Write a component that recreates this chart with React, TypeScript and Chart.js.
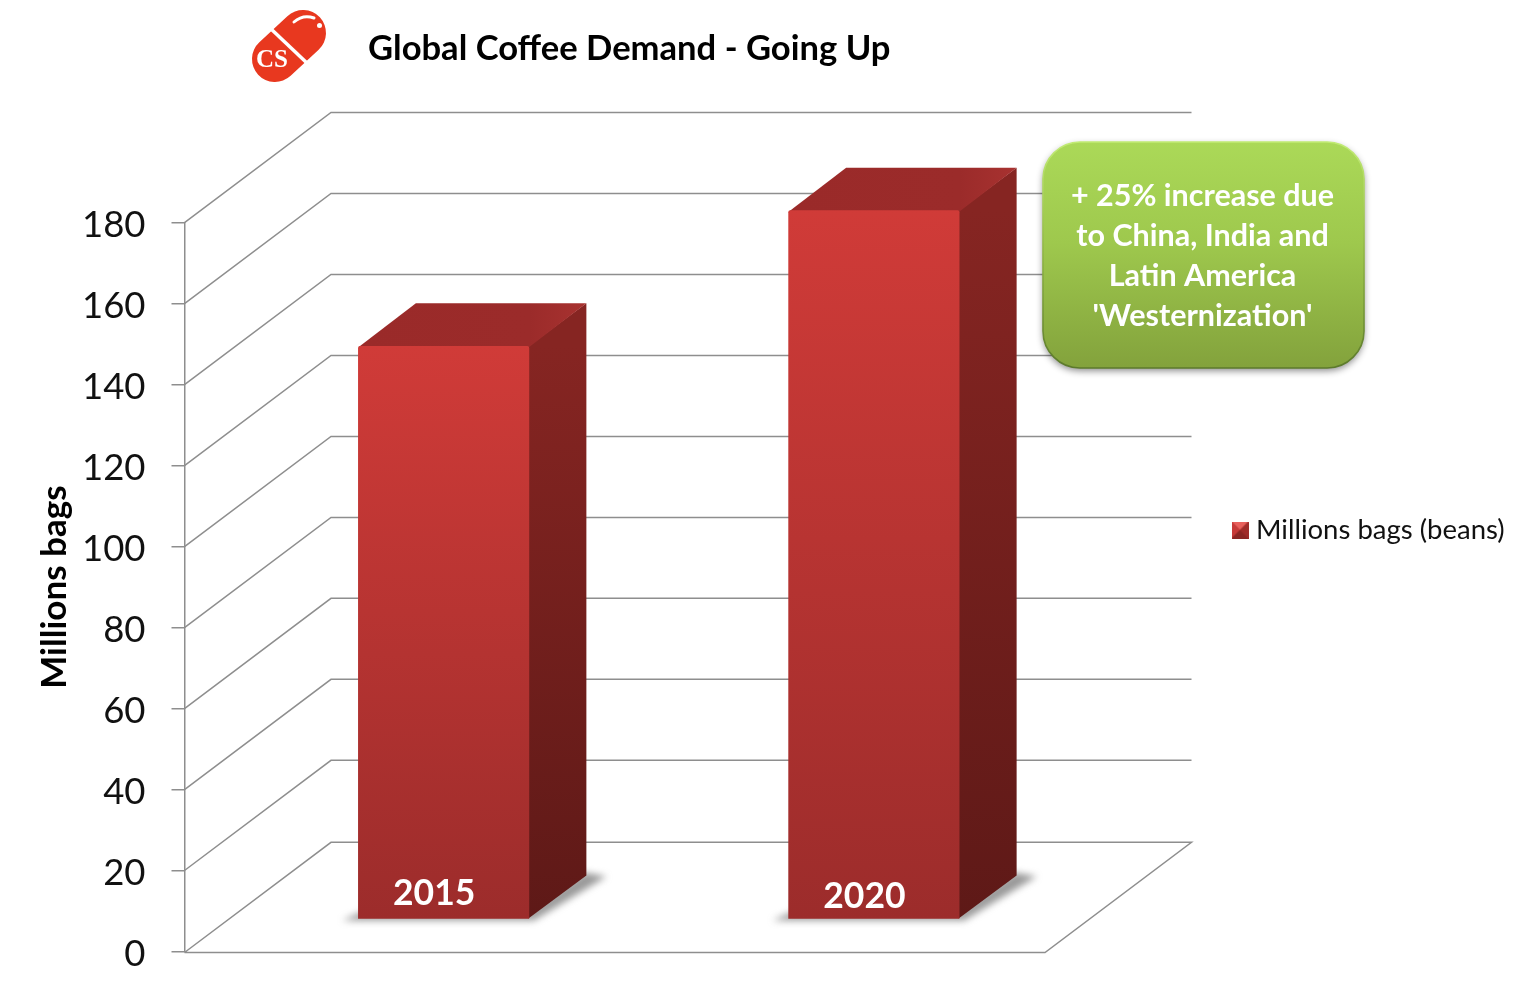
import React, { useEffect, useRef } from "react";
import { Chart, registerables } from "chart.js";

Chart.register(...registerables);

const categories = ["2015", "2020"];
const seriesName = "Millions bags (beans)";
const demand = [141.5, 175];
const chartTitle = "Global Coffee Demand - Going Up";
const yAxisTitle = "Millions bags";
const calloutLines = ["+ 25% increase due", "to China, India and", "Latin America", "'Westernization'"];

const FONT = "Lato, 'Noto Sans', sans-serif";
const GRID = "#8e8e8e";
const WALL = { x: 146.5, y: -110.2 };
const BAR_SHIFT = { x: 44, y: -32.3 };
const BAR_DEPTH = { x: 57.5, y: -43 };

function legendSwatch() {
  const c = document.createElement("canvas");
  c.width = 17;
  c.height = 17;
  const g = c.getContext("2d")!;
  g.fillStyle = "#a8302e";
  g.fillRect(0, 0, 17, 17);
  g.fillStyle = "#e8605c";
  g.beginPath();
  g.moveTo(0, 0);
  g.lineTo(17, 0);
  g.lineTo(8.5, 8.5);
  g.closePath();
  g.fill();
  g.fillStyle = "#c73a38";
  g.beginPath();
  g.moveTo(0, 0);
  g.lineTo(8.5, 8.5);
  g.lineTo(0, 17);
  g.closePath();
  g.fill();
  g.fillStyle = "#a02c2a";
  g.beginPath();
  g.moveTo(17, 0);
  g.lineTo(8.5, 8.5);
  g.lineTo(17, 17);
  g.closePath();
  g.fill();
  g.fillStyle = "#8a2624";
  g.beginPath();
  g.moveTo(0, 17);
  g.lineTo(8.5, 8.5);
  g.lineTo(17, 17);
  g.closePath();
  g.fill();
  return c;
}

function line(ctx: CanvasRenderingContext2D, pts: number[][]) {
  ctx.beginPath();
  pts.forEach((p, i) => (i ? ctx.lineTo(p[0], p[1]) : ctx.moveTo(p[0], p[1])));
  ctx.stroke();
}

function poly(ctx: CanvasRenderingContext2D, pts: number[][]) {
  ctx.beginPath();
  pts.forEach((p, i) => (i ? ctx.lineTo(p[0], p[1]) : ctx.moveTo(p[0], p[1])));
  ctx.closePath();
  ctx.fill();
}

function rrect(ctx: CanvasRenderingContext2D, x: number, y: number, w: number, h: number, r: number) {
  ctx.beginPath();
  ctx.roundRect(x, y, w, h, r);
}

const placement = {
  id: "placement",
  afterLayout(chart: any) {
    const t = chart.titleBlock;
    t.left = 368;
    const l = chart.legend;
    l.left = 1227.75;
    l.right = 1526;
    l.top = 420;
    l.bottom = 640;
  },
};

const scene = {
  id: "scene",
  beforeDatasetsDraw(chart: any) {
    const { ctx, chartArea: a, scales } = chart;
    const y = scales.y;
    ctx.save();
    ctx.strokeStyle = GRID;
    ctx.lineWidth = 1.5;
    y.ticks.forEach((t: any) => {
      const py = y.getPixelForValue(t.value);
      const off = t.value === 0 ? 1 : 0;
      if (t.value === 0) {
        line(ctx, [[a.left, py + off], [a.right, py + off], [a.right + WALL.x, py + WALL.y + off], [a.left + WALL.x, py + WALL.y + off], [a.left, py + off]]);
      } else {
        line(ctx, [[a.left, py], [a.left + WALL.x, py + WALL.y], [a.right + WALL.x, py + WALL.y]]);
      }
    });
    const meta = chart.getDatasetMeta(0);
    meta.data.forEach((bar: any) => {
      const l = bar.x - bar.width / 2 + BAR_SHIFT.x;
      const r = bar.x + bar.width / 2 + BAR_SHIFT.x;
      const top = bar.y + BAR_SHIFT.y;
      const base = bar.base + BAR_SHIFT.y;
      // floor shadow
      ctx.save();
      ctx.filter = "blur(3.5px)";
      ctx.fillStyle = "rgba(110,110,110,0.7)";
      poly(ctx, [[l - 16, base + 2], [r + 5, base + 2], [r + BAR_DEPTH.x + 20, base + BAR_DEPTH.y + 1], [r + BAR_DEPTH.x - 2, base + BAR_DEPTH.y - 3], [r - 2, base - 6], [l + 2, base - 6]]);
      ctx.restore();
      // side face
      const sg = ctx.createLinearGradient(0, top, 0, base);
      sg.addColorStop(0, "#862522");
      sg.addColorStop(1, "#5e1917");
      ctx.fillStyle = sg;
      poly(ctx, [[r - 0.5, top], [r + BAR_DEPTH.x, top + BAR_DEPTH.y], [r + BAR_DEPTH.x, base + BAR_DEPTH.y], [r - 0.5, base]]);
      // top face
      const tg = ctx.createLinearGradient(l, 0, r + BAR_DEPTH.x, 0);
      tg.addColorStop(0, "#9a2a29");
      tg.addColorStop(0.75, "#9b2b2a");
      tg.addColorStop(1, "#a83230");
      ctx.fillStyle = tg;
      poly(ctx, [[l, top + 1], [r, top + 1], [r + BAR_DEPTH.x, top + BAR_DEPTH.y], [l + BAR_DEPTH.x, top + BAR_DEPTH.y]]);
    });
    ctx.restore();
    ctx.save();
    ctx.translate(BAR_SHIFT.x, BAR_SHIFT.y);
  },
  afterDatasetsDraw(chart: any) {
    const { ctx } = chart;
    ctx.restore();
    const meta = chart.getDatasetMeta(0);
    const lift = [25, 22];
    ctx.save();
    ctx.fillStyle = "#ffffff";
    ctx.font = `bold 35.5px ${FONT}`;
    ctx.textAlign = "center";
    ctx.textBaseline = "middle";
    meta.data.forEach((bar: any, i: number) => {
      ctx.fillText(categories[i], bar.x + BAR_SHIFT.x - 9.5, bar.base + BAR_SHIFT.y - lift[i]);
    });
    ctx.restore();
  },
  afterDraw(chart: any) {
    const { ctx } = chart;
    // callout
    const x = 1043, y = 142, w = 321, h = 226, r = 37;
    ctx.save();
    ctx.shadowColor = "rgba(0,0,0,0.45)";
    ctx.shadowBlur = 7;
    ctx.shadowOffsetY = 3;
    const g = ctx.createLinearGradient(0, y, 0, y + h);
    g.addColorStop(0, "#abd958");
    g.addColorStop(0.45, "#9ec84d");
    g.addColorStop(1, "#83a23c");
    ctx.fillStyle = g;
    rrect(ctx, x, y, w, h, r);
    ctx.fill();
    ctx.restore();
    ctx.save();
    const e = ctx.createLinearGradient(0, y, 0, y + h);
    e.addColorStop(0, "#c2ec74");
    e.addColorStop(0.5, "#8fb545");
    e.addColorStop(1, "#5c7a2b");
    ctx.strokeStyle = e;
    ctx.lineWidth = 1.6;
    rrect(ctx, x, y, w, h, r);
    ctx.stroke();
    ctx.fillStyle = "#ffffff";
    ctx.font = `bold 30.5px ${FONT}`;
    ctx.textAlign = "center";
    ctx.textBaseline = "middle";
    calloutLines.forEach((t, i) => ctx.fillText(t, 1202.5, 196 + i * 40));
    ctx.restore();

    // logo
    ctx.save();
    ctx.strokeStyle = "#e8381f";
    ctx.lineCap = "round";
    ctx.lineWidth = 46;
    line(ctx, [[275, 59], [303, 33]]);
    ctx.strokeStyle = "#ffffff";
    ctx.lineCap = "butt";
    ctx.lineWidth = 3.5;
    line(ctx, [[270, 28], [308, 64]]);
    ctx.lineWidth = 3;
    ctx.lineCap = "round";
    ctx.beginPath();
    ctx.moveTo(294, 22);
    ctx.quadraticCurveTo(303, 14, 314, 18);
    ctx.stroke();
    ctx.fillStyle = "#ffffff";
    ctx.beginPath();
    ctx.arc(319.5, 25.5, 2.5, 0, Math.PI * 2);
    ctx.fill();
    ctx.font = "bold 25px 'Liberation Serif', serif";
    ctx.textAlign = "center";
    ctx.textBaseline = "middle";
    ctx.fillText("CS", 272, 61);
    ctx.restore();
  },
};

export default function App() {
  const ref = useRef<HTMLCanvasElement>(null);
  useEffect(() => {
    document.body.style.margin = "0";
    const chart = new Chart(ref.current!, {
      type: "bar",
      data: {
        labels: categories,
        datasets: [
          {
            label: seriesName,
            data: demand,
            clip: false,
            barThickness: 170.5,
            borderRadius: { topLeft: 2, topRight: 2, bottomLeft: 0, bottomRight: 0 },
            borderSkipped: false,
            backgroundColor: (c: any) => {
              if (c.type !== "data" || !c.chart.chartArea) return "#b5322f";
              const y = c.chart.scales.y;
              const g = c.chart.ctx.createLinearGradient(0, y.getPixelForValue(c.parsed.y), 0, y.getPixelForValue(0));
              g.addColorStop(0, "#d03b38");
              g.addColorStop(1, "#9c2c2b");
              return g;
            },
          },
        ],
      },
      options: {
        responsive: false,
        animation: false,
        devicePixelRatio: 1,
        events: [],
        layout: { padding: { left: 0, right: 461, top: 0, bottom: 45.5 } },
        scales: {
          x: { display: false, type: "category" },
          y: {
            min: 0,
            max: 180,
            afterFit: (s: any) => {
              s.width = 184.5;
              s.paddingTop = 0;
              s.paddingBottom = 0;
            },
            border: { display: true, color: GRID, width: 1.5 },
            grid: { drawOnChartArea: false, drawTicks: true, tickLength: 13, color: GRID, lineWidth: 1.5 },
            ticks: {
              stepSize: 20,
              autoSkip: false,
              padding: 26,
              labelOffset: 3,
              color: "#111111",
              font: { family: FONT, size: 36.5 },
            },
            title: {
              display: true,
              text: yAxisTitle,
              color: "#000000",
              font: { family: FONT, size: 35, weight: "bold" },
              padding: { top: 34, bottom: 0 },
            },
          },
        },
        plugins: {
          tooltip: { enabled: false },
          title: {
            display: true,
            text: chartTitle,
            align: "start",
            color: "#000000",
            font: { family: FONT, size: 34.6, weight: "bold", lineHeight: 1 },
            padding: { top: 31.7, bottom: 156.4 },
          },
          legend: {
            display: true,
            position: "right",
            maxWidth: 20,
            labels: {
              usePointStyle: true,
              pointStyle: legendSwatch(),
              pointStyleWidth: 4.5,
              padding: 10,
              color: "#111111",
              font: { family: FONT, size: 27.5 },
            },
          },
        },
      } as any,
      plugins: [placement, scene],
    });
    return () => chart.destroy();
  }, []);
  return (
    <div style={{ position: "fixed", left: 0, top: 0, width: 1526, height: 997, background: "#fff" }}>
      <canvas ref={ref} width={1526} height={997} style={{ display: "block" }} />
    </div>
  );
}
